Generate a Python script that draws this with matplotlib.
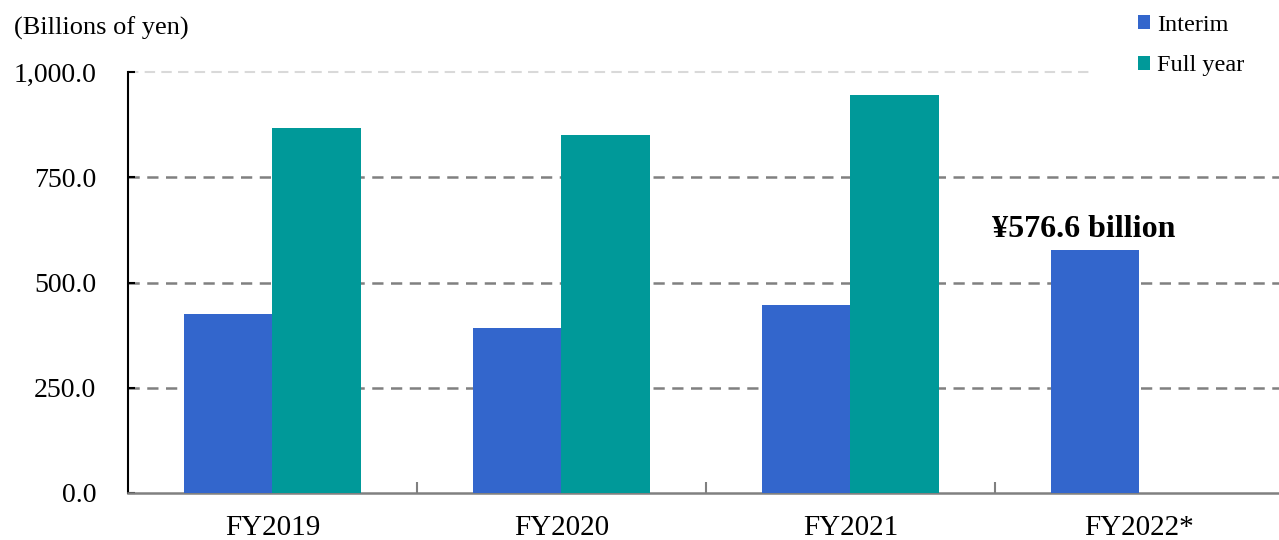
import matplotlib
matplotlib.use("Agg")
import matplotlib.pyplot as plt
import numpy as np

categories = ["FY2019", "FY2020", "FY2021", "FY2022*"]
interim = [425.0, 392.0, 447.0, 576.6]
full_year = [867.0, 850.0, 945.0, None]
yticks = [0, 250, 500, 750, 1000]
ytick_labels = ["0.0", "250.0", "500.0", "750.0", "1,000.0"]

plt.rcParams['font.family'] = ['Liberation Serif', 'DejaVu Serif']

c_int = "#3366CC"
c_full = "#009999"

fig = plt.figure(figsize=(12.79, 5.4), dpi=100)
ax = fig.add_axes([128/1279, 1-493/540, 1-128/1279, (493-72)/540])

x = np.arange(len(categories))
w = 0.305
ax.bar(x - w/2, interim, width=w, color=c_int, label="Interim", zorder=3)
fx = [xi + w/2 for xi, v in zip(x, full_year) if v is not None]
fv = [v for v in full_year if v is not None]
ax.bar(fx, fv, width=w, color=c_full, label="Full year", zorder=3)

ax.set_xlim(-0.5, 3.483)
ax.set_ylim(0, 1000)

for yv in yticks[1:-1]:
    ax.axhline(yv, color="#808080", lw=1.8, ls=(0, (4.5, 3)), zorder=1)
ax.plot([-0.5, 2.84], [1000, 1000], color="#D9D9D9", lw=1.5, ls=(0, (5, 3)), zorder=1, clip_on=False)

ax.set_yticks(yticks)
ax.set_yticklabels(ytick_labels, fontsize=20)
ax.tick_params(axis='y', direction='in', length=5, width=1.5, pad=23, color="black")
ax.set_xticks(x)
ax.set_xticklabels(categories, fontsize=21)
ax.tick_params(axis='x', which='major', length=0, pad=16)
ax.set_xticks(np.arange(0.5, 3.0, 1.0), minor=True)
ax.tick_params(axis='x', which='minor', direction='in', length=8, width=1.5, color="#808080")

for s in ["top", "right"]:
    ax.spines[s].set_visible(False)
ax.spines["left"].set_color("black")
ax.spines["left"].set_linewidth(1.5)
ax.spines["left"].set_bounds(0, 1000)
ax.spines["bottom"].set_color("#808080")
ax.spines["bottom"].set_linewidth(1.8)

ax.text(3 - w/2 - 0.04, interim[3] + 50, "¥576.6 billion", ha="center", va="center",
        fontsize=23, fontweight="bold", zorder=4)

fig.text(14/1279, 1-28/540, "(Billions of yen)", fontsize=19, ha="left", va="center")

leg = ax.legend(loc="upper left", bbox_to_anchor=(1122/1279, 1.0 + 1/540), bbox_transform=fig.transFigure,
                frameon=False, fontsize=17.5, handlelength=0.5, handleheight=0.5,
                handletextpad=0.3, labelspacing=0.8, borderaxespad=0.25)

fig.savefig("out.png", dpi=100)
